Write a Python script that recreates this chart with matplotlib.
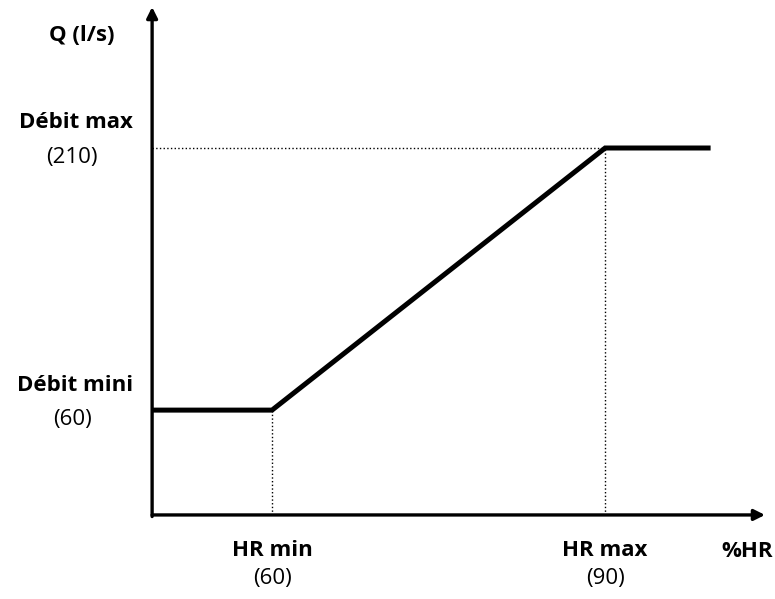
import matplotlib.pyplot as plt

# --- données (schéma débit / humidité relative) ---
hr_points = [49.2, 60, 90, 99.5]
q_points = [60, 60, 210, 210]
hr_min, hr_max = 60, 90
q_min, q_max = 60, 210
x_origin, y_origin = 49.2, 0
x_end, y_end = 104.4, 290.7

x_labels = ["HR min", "HR max"]
x_values = ["(60)", "(90)"]
y_labels = ["Débit mini", "Débit max"]
y_values = ["(60)", "(210)"]

plt.rcParams["font.family"] = ["Open Sans", "DejaVu Sans"]

fig = plt.figure(figsize=(7.75, 5.99), dpi=100)
ax = fig.add_axes([0, 0, 1, 1])
ax.set_xlim(35.5, 105.3)
ax.set_ylim(-48.1, 294.7)
ax.axis("off")

# --- axes avec flèches ---
arrow = dict(arrowstyle="-|>", color="black", lw=2.4, mutation_scale=16,
             shrinkA=0, shrinkB=0)
ax.annotate("", xy=(x_end, y_origin), xytext=(x_origin, y_origin), arrowprops=arrow)
ax.annotate("", xy=(x_origin, y_end), xytext=(x_origin, y_origin - 0.9), arrowprops=arrow)

# --- pointillés ---
ax.plot([hr_min, hr_min], [y_origin, q_min], color="black", lw=1, ls=":")
ax.plot([hr_max, hr_max], [y_origin, q_max], color="black", lw=1, ls=":")
ax.plot([x_origin, hr_max], [q_max, q_max], color="black", lw=1, ls=":")

# --- courbe ---
ax.plot(hr_points, q_points, color="black", lw=3.6, solid_capstyle="butt",
        solid_joinstyle="miter")

# --- textes ---
fs = 16
px_y = 1 / 1.7467  # unités de débit par pixel
ax.text(42.9, 294.7 - 35 * px_y, "Q (l/s)", fontsize=fs, fontweight="bold",
        ha="center", va="center")
for lab, val, q in zip(y_labels, y_values, [q_min, q_max]):
    ax.text(42.3, q + 25 * px_y, lab, fontsize=fs, fontweight="bold",
            ha="center", va="center")
    ax.text(42.0, q - 9 * px_y, val, fontsize=fs, ha="center", va="center")

for lab, val, x in zip(x_labels, x_values, [hr_min, hr_max]):
    ax.text(x, y_origin - 36 * px_y, lab, fontsize=fs, fontweight="bold",
            ha="center", va="center")
    ax.text(x, y_origin - 64 * px_y, val, fontsize=fs, ha="center", va="center")
ax.text(102.8, y_origin - 37 * px_y, "%HR", fontsize=fs, fontweight="bold",
        ha="center", va="center")

plt.savefig("out.png", dpi=100)
plt.close()
